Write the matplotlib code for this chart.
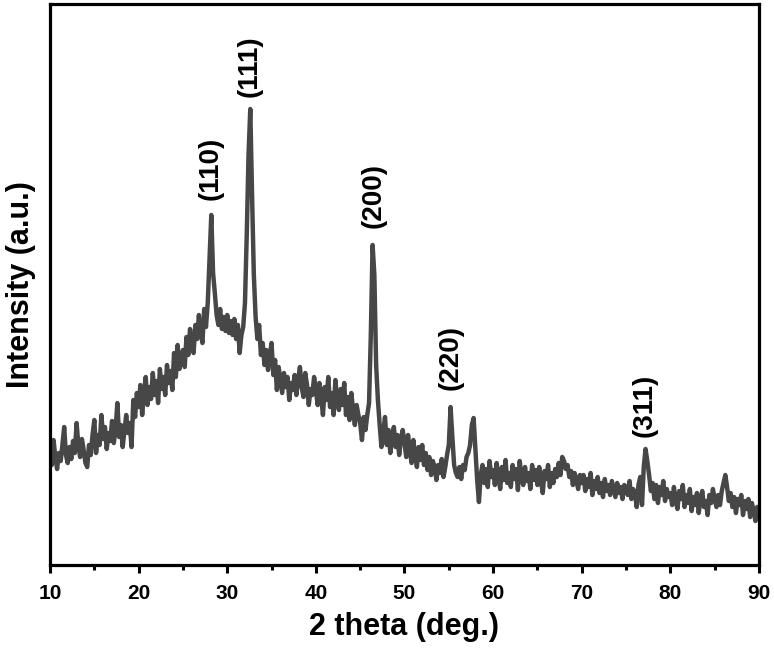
import numpy as np
import matplotlib
matplotlib.use("Agg")
import matplotlib.pyplot as plt
from matplotlib.ticker import MultipleLocator

plt.rcParams['font.family'] = ['Liberation Sans', 'DejaVu Sans']

# --- XRD pattern (2 theta step 0.2 deg, intensity a.u.) ---
two_theta = np.round(np.arange(10.0, 90.0001, 0.2), 1)

intensity = [
    # 10.0 - 14.8
    118, 100, 125, 108, 96, 112, 104, 120, 138, 110, 102, 118, 106, 124, 112, 142, 120, 108, 126, 115, 102, 98, 120, 110, 130,
    # 15.0 - 19.8
    145, 112, 130, 120, 150, 126, 138, 116, 132, 124, 144, 122, 136, 162, 128, 140, 118, 134, 150, 132, 142, 118, 165, 148, 172,
    # 20.0 - 24.8
    158, 180, 150, 172, 188, 160, 178, 166, 192, 170, 184, 162, 196, 176, 188, 170, 200, 182, 194, 175, 212, 188, 220, 196, 205,
    # 25.0 - 29.8  (110)
    215, 198, 228, 210, 236, 220, 212, 240, 226, 250, 232, 222, 256, 238, 262, 305, 350, 292, 272, 250, 240, 256, 236, 248, 234,
    # 30.0 - 34.8  (111)
    250, 232, 244, 230, 246, 226, 240, 212, 230, 238, 262, 330, 410, 456, 370, 290, 248, 226, 240, 210, 222, 200, 215, 195, 210,
    # 35.0 - 39.8
    222, 190, 205, 175, 198, 185, 172, 192, 178, 188, 165, 182, 175, 190, 170, 185, 198, 178, 168, 192, 180, 160, 176, 170, 188,
    # 40.0 - 44.8
    175, 160, 182, 168, 150, 178, 165, 188, 158, 172, 150, 185, 166, 155, 176, 160, 182, 150, 168, 145, 172, 155, 140, 160, 150,
    # 45.0 - 49.8  (200)
    142, 125, 148, 135, 150, 162, 230, 320, 290, 200, 165, 140, 118, 132, 148, 120, 135, 112, 128, 138, 118, 130, 110, 126, 135,
    # 50.0 - 54.8
    122, 108, 130, 115, 102, 125, 110, 98, 118, 105, 120, 100, 112, 95, 108, 90, 104, 98, 85, 100, 92, 106, 88, 98, 110,
    # 55.0 - 59.8  (220)
    120, 158, 128, 100, 92, 88, 98, 86, 100, 95, 108, 112, 120, 140, 147, 115, 85, 63, 90, 100, 82, 96, 78, 104, 88,
    # 60.0 - 64.8
    95, 80, 102, 88, 76, 98, 85, 105, 82, 92, 78, 100, 86, 96, 75, 104, 88, 80, 98, 84, 92, 76, 100, 85, 95,
    # 65.0 - 69.8
    80, 98, 84, 72, 94, 86, 100, 78, 92, 82, 96, 88, 102, 90, 108, 104, 96, 100, 88, 94, 80, 92, 84, 76, 90,
    # 70.0 - 74.8
    82, 90, 74, 86, 78, 92, 70, 84, 76, 88, 72, 82, 68, 86, 74, 80, 70, 84, 76, 68, 82, 72, 78, 66, 80,
    # 75.0 - 79.8  (311)
    78, 70, 84, 66, 76, 72, 58, 80, 88, 60, 98, 116, 104, 90, 74, 82, 66, 80, 62, 78, 70, 84, 64, 76, 68,
    # 80.0 - 84.8
    72, 60, 78, 64, 56, 74, 66, 80, 58, 70, 62, 76, 54, 68, 60, 72, 52, 66, 74, 58, 64, 50, 70, 62, 76,
    # 85.0 - 89.8
    66, 58, 70, 60, 74, 82, 90, 78, 64, 72, 58, 68, 52, 66, 60, 70, 50, 64, 56, 66, 48, 62, 54, 44, 58,
    # 90.0
    52,
]

# --- peak labels ---
peak_labels = ["(110)", "(111)", "(200)", "(220)", "(311)"]
peak_pos = [28.1, 32.5, 46.5, 55.2, 77.1]
label_y = [365, 468, 337, 175, 128]

fig = plt.figure(figsize=(7.74, 6.52), dpi=100)
ax = fig.add_axes([0.0646, 0.1334, 0.916, 0.8605])

ax.plot(two_theta, intensity, color="#474747", lw=3.2, solid_joinstyle="round")

for lab, x, y in zip(peak_labels, peak_pos, label_y):
    ax.text(x, y, lab, rotation=90, ha="center", va="bottom",
            fontsize=20, fontweight="bold")

ax.set_xlim(10, 90)
ax.set_ylim(0, 561)
ax.xaxis.set_major_locator(MultipleLocator(10))
ax.xaxis.set_minor_locator(MultipleLocator(5))
ax.set_yticks([])
ax.tick_params(axis="x", which="major", direction="out", length=6, width=2.2,
               labelsize=15, pad=8)
ax.tick_params(axis="x", which="minor", direction="out", length=3.5, width=2.2)
for lab in ax.get_xticklabels():
    lab.set_fontweight("bold")
for sp in ax.spines.values():
    sp.set_linewidth(2.3)

ax.set_xlabel("2 theta (deg.)", fontsize=22, fontweight="bold", labelpad=6)
ax.set_ylabel("Intensity (a.u.)", fontsize=22, fontweight="bold", labelpad=10)

fig.savefig("out.png", dpi=100)
